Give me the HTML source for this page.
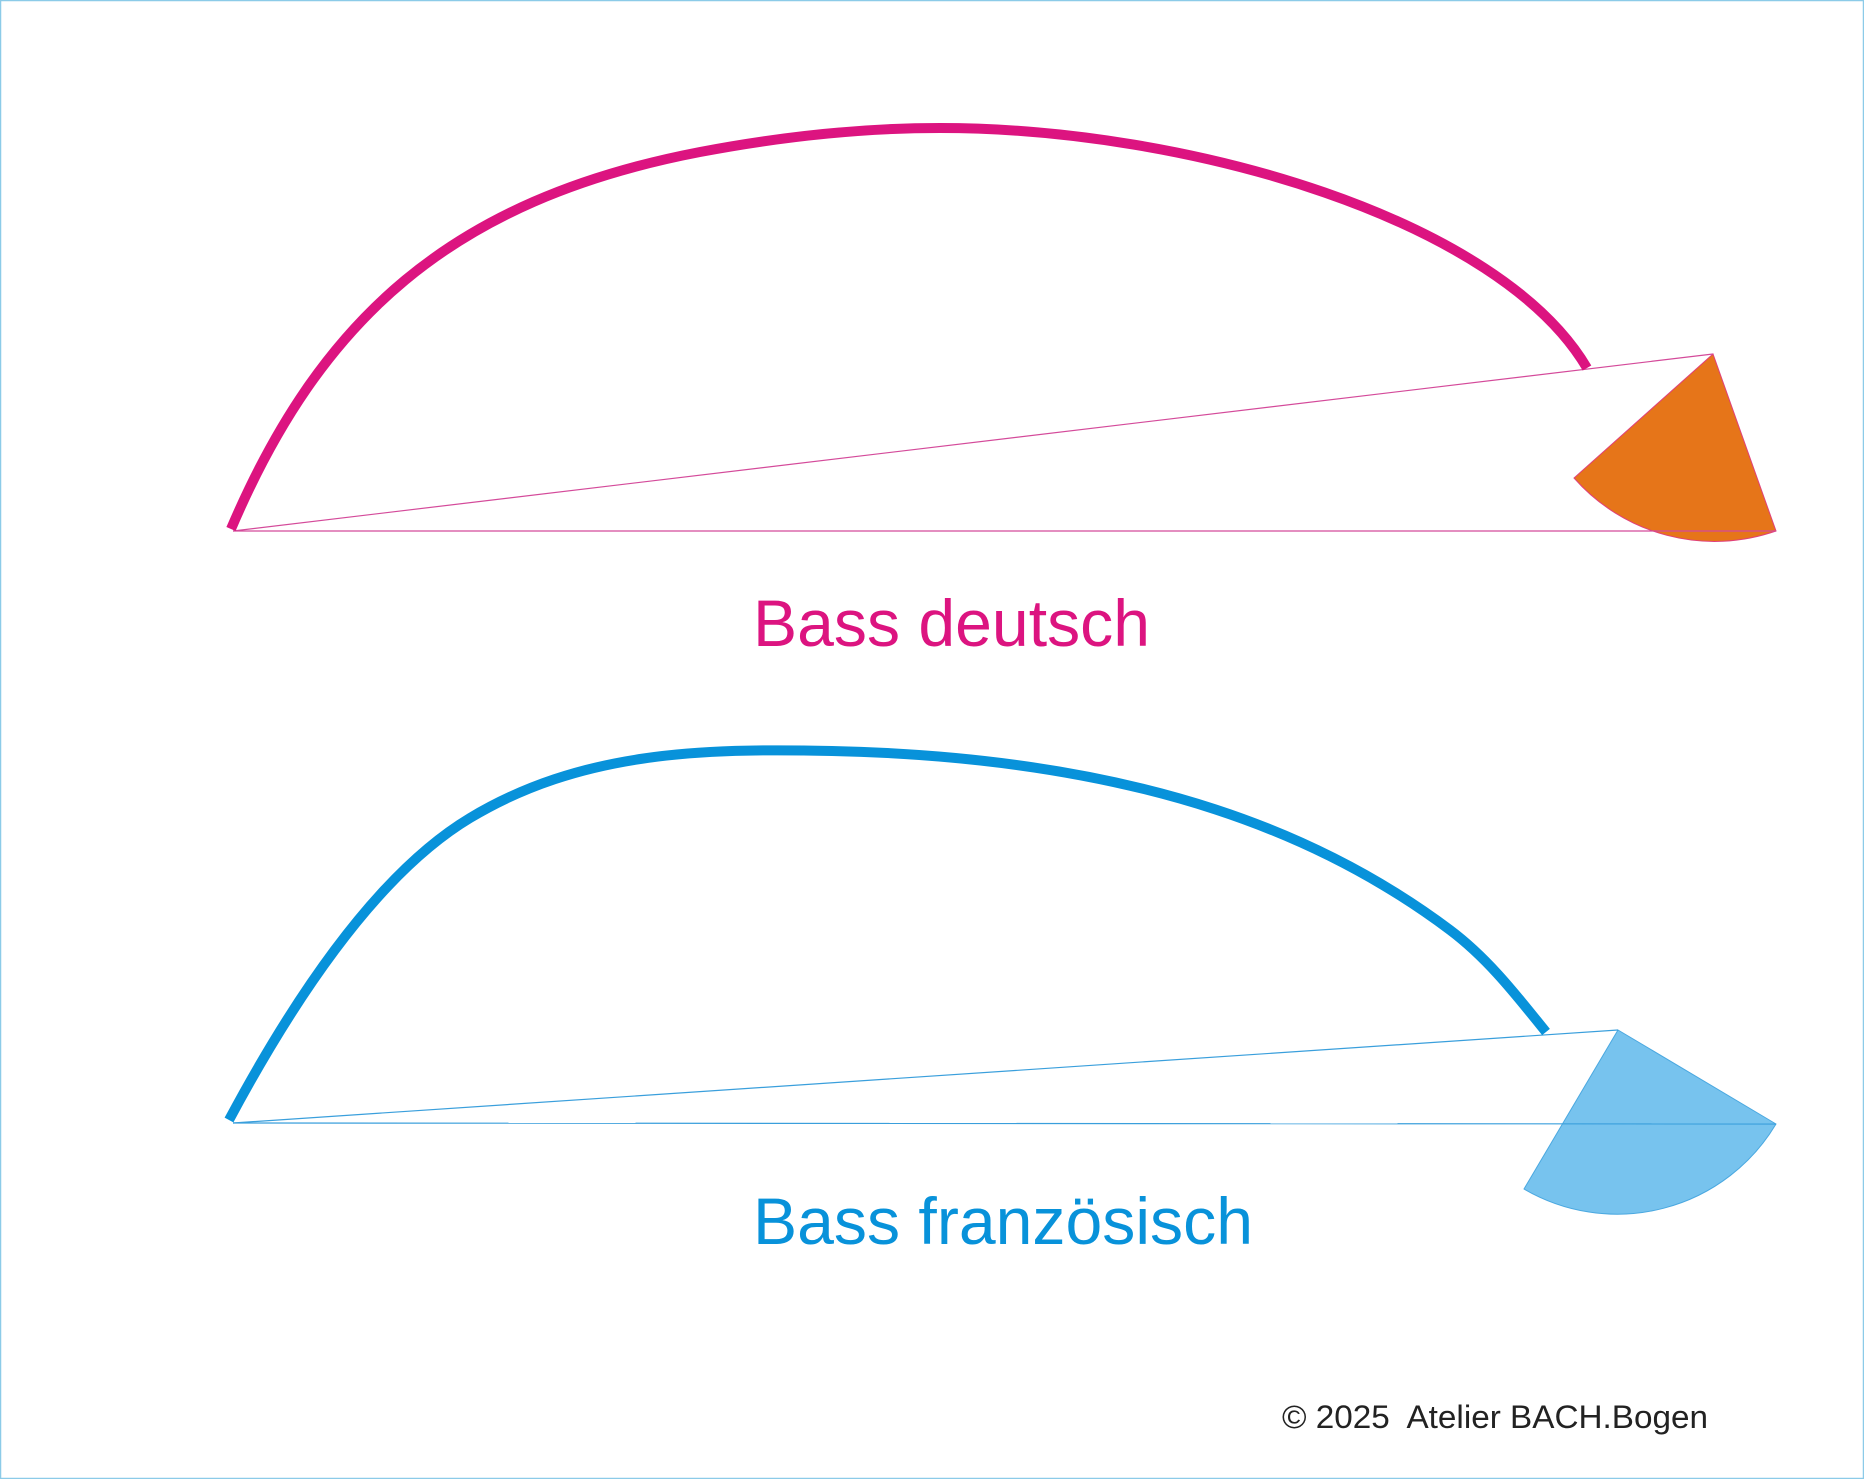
<!DOCTYPE html>
<html><head><meta charset="utf-8"><style>
html,body{margin:0;padding:0;background:#fff}
svg{display:block}
</style></head><body>
<svg width="1864" height="1479" viewBox="0 0 1864 1479" xmlns="http://www.w3.org/2000/svg">
<rect x="0.5" y="0.5" width="1863" height="1478" fill="#fff" stroke="#8ccbe8" stroke-width="1.5"/>
<!-- German -->
<path d="M1713,354 L1574,478 A187,187 0 0 0 1776,531 Z" fill="#e67519" stroke="#e0407a" stroke-width="1"/>
<line x1="233" y1="531" x2="1776" y2="531" stroke="#d44a9a" stroke-width="1.2"/>
<line x1="233" y1="531" x2="1713" y2="354" stroke="#d44a9a" stroke-width="1.2"/>
<path d="M231,529 C320,320 450,200 700,152 C800,133 880,128 940,128 C1190,128 1500,220 1587,368" fill="none" stroke="#dc1480" stroke-width="10"/>
<text x="753" y="646" font-family="Liberation Sans, Arial, sans-serif" font-size="66" fill="#dc1480" textLength="397" lengthAdjust="spacingAndGlyphs">Bass deutsch</text>
<!-- French -->
<path d="M1618,1030 L1524,1189 A185,185 0 0 0 1776,1124 Z" fill="#77c3ee" stroke="#4aa8e0" stroke-width="1"/>
<line x1="233" y1="1123" x2="1776" y2="1124" stroke="#3a9fdc" stroke-width="1.2"/>
<line x1="233" y1="1123" x2="1618" y2="1030" stroke="#3a9fdc" stroke-width="1.2"/>
<path d="M229,1120 C320,950 400,860 470,818 C580,752 700,748 832,751 C1150,758 1330,840 1450,930 C1490,960 1520,1000 1546,1032" fill="none" stroke="#0892da" stroke-width="10"/>
<text x="753" y="1244" font-family="Liberation Sans, Arial, sans-serif" font-size="66" fill="#0892da" textLength="500" lengthAdjust="spacingAndGlyphs">Bass französisch</text>
<text x="1282" y="1428" font-family="Liberation Sans, Arial, sans-serif" font-size="32" fill="#222" textLength="426" lengthAdjust="spacingAndGlyphs" xml:space="preserve">© 2025  Atelier BACH.Bogen</text>
</svg>
</body></html>
